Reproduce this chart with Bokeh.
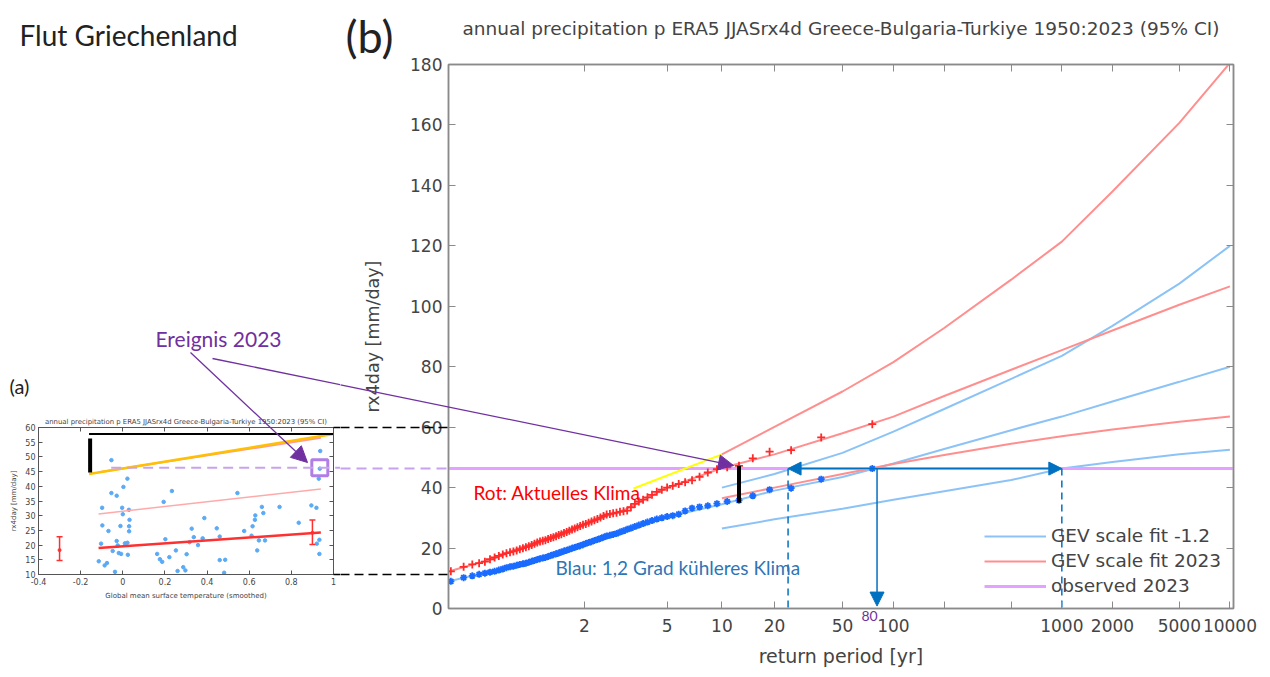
import math
from bokeh.plotting import figure
from bokeh.layouts import row
from bokeh.models import (Range1d, FixedTicker, LinearAxis, Arrow,
                          NormalHead, Legend, LegendItem)
from bokeh.core.properties import value
from bokeh.embed import file_html
from bokeh.resources import INLINE

# ---------------------------------------------------------------- data (b)
# ranked JJAS rx4day values 1950-2023 (largest first), plotted at return period (n+1)/rank
n_years = 74
red_2023 = [61.0, 56.6, 52.4, 51.9, 49.7, 47.2, 46.7, 46.1, 45.0, 43.6,
            42.4, 41.8, 41.2, 40.6, 40.0, 39.3, 38.6, 37.6, 36.8, 36.0,
            35.4, 34.6, 33.5, 32.4, 32.2, 32.0, 31.7, 31.5, 31.3, 31.1,
            30.6, 30.1, 29.6, 29.2, 28.8, 28.4, 28.0, 27.7, 27.3, 26.9,
            26.5, 26.1, 25.7, 25.3, 25.0, 24.6, 24.3, 23.9, 23.6, 23.3,
            23.0, 22.6, 22.4, 22.2, 21.8, 21.4, 21.0, 20.6, 20.3, 19.9,
            19.6, 19.2, 18.9, 18.6, 18.3, 17.9, 17.4, 16.9, 16.3, 15.5,
            15.0, 14.6, 13.8, 12.3]
blue_minus12 = [46.3, 42.8, 39.8, 39.3, 37.3, 35.8, 35.4, 34.7, 34.0, 33.6,
                33.2, 32.3, 31.2, 30.7, 30.4, 30.0, 29.6, 29.1, 28.6, 28.1,
                27.6, 27.1, 26.6, 26.2, 25.7, 25.3, 24.8, 24.5, 24.2, 24.0,
                23.6, 23.2, 22.8, 22.5, 22.1, 21.8, 21.5, 21.1, 20.8, 20.5,
                20.2, 19.9, 19.6, 19.3, 19.0, 18.7, 18.4, 18.1, 17.8, 17.5,
                17.2, 16.9, 16.7, 16.5, 16.2, 15.9, 15.6, 15.3, 15.0, 14.8,
                14.6, 14.3, 14.0, 13.8, 13.5, 13.1, 12.7, 12.3, 12.0, 11.7,
                11.3, 10.8, 10.2, 9.0]
observed_2023 = 46.3
observed_T = [1.001, 20000]

fit_T = [1.01, 1.1, 1.2, 1.5, 2, 3, 5, 10, 20, 50, 100, 200, 500, 1000, 2000, 5000, 10000]
fit_2023_mid = [12.0, 16.5, 19.5, 23.8, 28.0, 32.5, 40.0, 46.5, 51.0, 58.0, 63.5, 70.3, 79.0, 85.5, 92.0, 100.5, 106.6]
fit_m12_mid = [8.8, 12.5, 14.5, 17.5, 21.0, 25.0, 30.3, 34.5, 39.0, 43.5, 48.0, 52.8, 59.0, 63.5, 68.5, 75.0, 80.0]
ci_T = [10, 20, 50, 100, 200, 500, 1000, 2000, 5000, 10000]
fit_2023_hi = [51.0, 60.1, 71.8, 81.5, 92.8, 108.8, 121.4, 138.0, 160.7, 180.5]
fit_2023_lo = [36.5, 40.0, 44.5, 47.8, 50.8, 54.5, 57.0, 59.2, 61.8, 63.5]
fit_m12_hi = [40.0, 44.5, 51.5, 58.5, 66.0, 76.0, 83.6, 93.5, 107.5, 120.0]
fit_m12_lo = [26.5, 29.5, 33.0, 36.0, 38.8, 42.5, 46.3, 48.5, 51.0, 52.5]

tick_T = [2, 5, 10, 20, 50, 100, 1000, 2000, 5000, 10000]
tick_text = ["2", "5", "10", "20", "50", "100", "1000", "2000", "5000", "10000"]
minor_T = [200, 500]
y_ticks_b = [0, 20, 40, 60, 80, 100, 120, 140, 160, 180]

# annotation values
event_T = 12.5          # rank-6 point marked with the black bar
bar_lo, bar_hi = 35.0, 47.2
rp_cool_lo, rp_now, rp_cool_hi = 24, 80, 1000

# ---------------------------------------------------------------- data (a)
gmst = [-0.054, -0.098, -0.097, -0.103, -0.114, -0.086, -0.075, -0.068, -0.054, -0.029,
        -0.048, -0.037, -0.029, -0.024, -0.019, -0.008, -0.011, -0.003, 0.000, 0.003,
        0.010, 0.022, 0.029, 0.032, 0.030, 0.030, 0.022, 0.024, 0.163, 0.176,
        0.187, 0.194, 0.202, 0.221, 0.233, 0.252, 0.260, 0.287, 0.297, 0.303,
        0.327, 0.337, 0.317, 0.357, 0.379, 0.387, 0.446, 0.460, 0.460, 0.486,
        0.481, 0.544, 0.576, 0.611, 0.616, 0.627, 0.629, 0.638, 0.646, 0.660,
        0.667, 0.675, 0.744, 0.835, 0.895, 0.919, 0.937, 0.930, 0.933, 0.933,
        0.921, 0.935]
rx4day = [48.9, 32.7, 26.7, 20.5, 14.5, 13.1, 13.9, 24.8, 37.7, 36.8,
          18.0, 10.9, 21.4, 19.9, 17.3, 17.0, 26.5, 32.7, 30.5, 39.8,
          20.6, 42.6, 32.0, 28.6, 26.4, 24.7, 20.8, 16.7, 17.0, 15.2,
          14.3, 34.7, 22.0, 15.9, 38.4, 18.2, 11.2, 12.5, 11.4, 16.9,
          25.6, 22.7, 21.0, 20.0, 22.3, 29.2, 25.7, 22.9, 14.9, 15.0,
          10.6, 37.7, 24.8, 23.2, 26.4, 28.6, 30.1, 18.2, 21.6, 33.0,
          30.9, 21.6, 33.0, 27.6, 33.5, 32.7, 52.0, 42.6, 21.8, 17.0,
          20.5, 46.0]
trend_x = [-0.115, 0.94]
trend_mu = [19.0, 24.3]
trend_rp6 = [30.6, 39.1]
trend_rp40 = [44.8, 56.5]
highlight_x = [-0.16, 1.0]
highlight_y = [44.2, 57.8]
err_x = [-0.3, 0.9]
err_mid = [18.3, 24.2]
err_lo = [14.8, 20.2]
err_hi = [22.8, 28.5]
event_gmst = 0.935

TITLE = "annual precipitation p ERA5 JJASrx4d Greece-Bulgaria-Turkiye 1950:2023 (95% CI)"
PURPLE = "#7030a0"
BLUEA = "#0070c0"
GRAY = "#444444"


def gum(T):
    return -math.log(-math.log(1.0 - 1.0 / T))


# ---------------------------------------------------------------- geometry helpers (page px -> data)
SPLIT = 340                       # page x where panel (b)'s canvas starts
XL, XR = -1.495, 9.259
FL, FR, FT, FB = 448, 1233, 64, 608


def mx(px):
    return XL + (px - FL) * (XR - XL) / (FR - FL)


def my(py):
    return (FB - py) * 180.0 / (FB - FT)


AL, AR, AT, AB = 38, 333, 427, 574


def ax_(px):
    return -0.4 + (px - AL) * 1.4 / (AR - AL)


def ay(py):
    return 10 + (AB - py) * 50.0 / (AB - AT)


def mirror_axis(ticker, color, tick_len, width=1.0, minor=False):
    return LinearAxis(ticker=ticker, major_label_text_font_size="1px", major_label_text_color=None,
                      major_tick_in=tick_len, major_tick_out=0,
                      minor_tick_in=tick_len if minor else 0, minor_tick_out=0,
                      minor_tick_line_color=color if minor else None,
                      axis_line_color=color, axis_line_width=width,
                      major_tick_line_color=color, major_label_standoff=0)


def free_text(p, x, y, s, size, color, align="left", font="Lato"):
    r = p.text(x=[x], y=[y], text=[s], text_font=value(font), text_font_size=value(size),
               text_color=color, text_baseline="middle", text_align=align)
    r.level = "overlay"
    return r


def free_seg(p, x0, y0, x1, y1, color, width, dash="solid"):
    r = p.segment(x0=x0, y0=y0, x1=x1, y1=y1, line_color=color, line_width=width, line_dash=dash)
    r.level = "overlay"
    return r


def head(p, fx, fy, tx, ty, color, size):
    # arrow head only, placed at the tip (from a short inner segment)
    p.add_layout(Arrow(end=NormalHead(size=size, fill_color=color, line_color=color),
                       x_start=fx, y_start=fy, x_end=tx, y_end=ty, line_color=color, line_width=1.3))


# ================================================================ panel (b)
pm = figure(width=1262 - SPLIT, height=670, x_range=Range1d(XL, XR), y_range=Range1d(0, 180),
            output_backend="svg", toolbar_location=None, frame_align=False,
            min_border_left=FL - SPLIT, min_border_right=29, min_border_top=FT, min_border_bottom=670 - FB,
            x_axis_label="return period [yr]", y_axis_label="rx4day [mm/day]")
pm.grid.visible = False
pm.outline_line_color = "#8a8a8a"
pm.outline_line_width = 1.5
free_text(pm, (XL + XR) / 2, my(28), TITLE, "18.5px", GRAY, align="center", font="DejaVu Sans")

tick_pos = [round(gum(t), 6) for t in tick_T]
xt = FixedTicker(ticks=tick_pos, minor_ticks=[gum(t) for t in minor_T])
yt = FixedTicker(ticks=y_ticks_b)
for ax in pm.xaxis:
    ax.ticker = xt
    ax.major_label_overrides = {p: s for p, s in zip(tick_pos, tick_text)}
    ax.minor_tick_in = 7
    ax.minor_tick_out = 0
    ax.minor_tick_line_color = "#8a8a8a"
for ax in pm.yaxis:
    ax.ticker = yt
    ax.minor_tick_line_color = None
for ax in list(pm.xaxis) + list(pm.yaxis):
    ax.major_tick_in = 7
    ax.major_tick_out = 0
    ax.axis_line_color = "#8a8a8a"
    ax.axis_line_width = 1.5
    ax.major_tick_line_color = "#8a8a8a"
    ax.major_label_text_font = "DejaVu Sans"
    ax.major_label_text_font_size = "17px"
    ax.major_label_text_color = GRAY
    ax.axis_label_text_font = "DejaVu Sans"
    ax.axis_label_text_font_style = "normal"
    ax.axis_label_text_color = GRAY
pm.xaxis.axis_label_text_font_size = "19px"
pm.yaxis.axis_label_text_font_size = "17.5px"
pm.xaxis.major_label_standoff = 10
pm.xaxis.axis_label_standoff = 10
pm.yaxis.major_label_standoff = 6
pm.yaxis.axis_label_standoff = 24

pm.add_layout(mirror_axis(yt, "#8a8a8a", 7, 1.5), "right")
pm.add_layout(mirror_axis(xt, "#8a8a8a", 7, 1.5, minor=True), "above")

gx_pts = [gum((n_years + 1) / r) for r in range(1, n_years + 1)]
gx_fit = [gum(t) for t in fit_T]
gx_ci = [gum(t) for t in ci_T]

RED_FIT = "#ff8f8f"
BLUE_FIT = "#8cc3f7"
r_bmid = pm.line(gx_fit, fit_m12_mid, line_color=BLUE_FIT, line_width=2)
pm.line(gx_ci, fit_m12_hi, line_color=BLUE_FIT, line_width=2)
pm.line(gx_ci, fit_m12_lo, line_color=BLUE_FIT, line_width=2)
r_rmid = pm.line(gx_fit, fit_2023_mid, line_color=RED_FIT, line_width=2)
pm.line(gx_ci, fit_2023_hi, line_color=RED_FIT, line_width=2)
pm.line(gx_ci, fit_2023_lo, line_color=RED_FIT, line_width=2)

r_obs = pm.line([gum(t) for t in observed_T], [observed_2023, observed_2023],
                line_color="#e4a1ff", line_width=3)

pm.scatter(gx_pts, blue_minus12, marker="asterisk", size=7, line_color="#1a6bff", line_width=1.8)
pm.scatter(gx_pts, red_2023, marker="cross", size=8, line_color="#ff2a2a", line_width=1.8)

# black bar between the two climates at the event
pm.segment(x0=[gum(event_T)], y0=[bar_lo], x1=[gum(event_T)], y1=[bar_hi],
           line_color="black", line_width=4)

# blue return-period construction
g_lo, g_now, g_hi = gum(rp_cool_lo), gum(rp_now), gum(rp_cool_hi)
pm.segment(x0=[g_lo, g_hi], y0=[observed_2023, observed_2023], x1=[g_lo, g_hi], y1=[0, 0],
           line_color=BLUEA, line_width=1.5, line_dash="7 5")
pm.add_layout(Arrow(start=NormalHead(size=13, fill_color=BLUEA, line_color=BLUEA),
                    end=NormalHead(size=13, fill_color=BLUEA, line_color=BLUEA),
                    x_start=g_lo, y_start=observed_2023, x_end=g_hi, y_end=observed_2023,
                    line_color=BLUEA, line_width=1.5))
pm.add_layout(Arrow(end=NormalHead(size=14, fill_color=BLUEA, line_color=BLUEA),
                    x_start=g_now, y_start=observed_2023, x_end=g_now, y_end=0.8,
                    line_color=BLUEA, line_width=1.5))
free_text(pm, mx(869), my(615), "80", "14px", PURPLE, align="center")

# yellow pointer and labels
pm.segment(x0=[mx(633)], y0=[my(488)], x1=[gum(10)], y1=[fit_2023_hi[0]],
           line_color="#ffff00", line_width=2)
free_text(pm, mx(473), my(492), "Rot: Aktuelles Klima", "19px", "#ff0000")
free_text(pm, mx(555), my(567), "Blau: 1,2 Grad kühleres Klima", "19px", "#2e75b6")
free_text(pm, mx(345), my(35), "(b)", "45px", "#222222")

# lines coming from panel (a) into the left margin of (b)
free_seg(pm, [mx(SPLIT)], [observed_2023], [XL], [observed_2023], "#c8a2f0", 2, "10 6")
free_seg(pm, [mx(SPLIT), mx(SPLIT)], [my(427), my(574)], [XL, XL], [my(427), my(574)],
         "black", 1.5, "9 5")
B0 = (212, 358)
B1 = (733, 465)
slope_b = (B1[1] - B0[1]) / (B1[0] - B0[0])
y_split = B0[1] + (SPLIT - B0[0]) * slope_b
free_seg(pm, [mx(SPLIT)], [my(y_split)], [mx(B1[0] - 8)], [my(B1[1] - 8 * slope_b)], PURPLE, 1.3)
head(pm, mx(B1[0] - 10), my(B1[1] - 10 * slope_b), mx(B1[0]), my(B1[1]), PURPLE, 15)

legend = Legend(items=[LegendItem(label="GEV scale fit -1.2", renderers=[r_bmid]),
                       LegendItem(label="GEV scale fit 2023", renderers=[r_rmid]),
                       LegendItem(label="observed 2023", renderers=[r_obs])],
                location="bottom_right")
legend.label_text_font = "DejaVu Sans"
legend.label_text_font_size = "18.5px"
legend.label_text_color = GRAY
legend.background_fill_alpha = 0
legend.border_line_alpha = 0
legend.glyph_width = 62
legend.glyph_height = 20
legend.label_height = 20
legend.spacing = 4
legend.padding = 2
legend.margin = 10
pm.add_layout(legend)

# ================================================================ panel (a)
pa = figure(width=SPLIT, height=670, x_range=Range1d(-0.4, 1.0), y_range=Range1d(10, 60),
            output_backend="svg", toolbar_location=None, frame_align=False,
            min_border_left=AL, min_border_right=SPLIT - AR, min_border_top=AT, min_border_bottom=670 - AB,
            x_axis_label="Global mean surface temperature (smoothed)",
            y_axis_label="rx4day [mm/day]")
pa.title.text = TITLE
pa.title.align = "center"
pa.title.text_font = "DejaVu Sans"
pa.title.text_font_size = "6.9px"
pa.title.text_font_style = "normal"
pa.title.text_color = GRAY
pa.title.standoff = 4
pa.grid.visible = False
pa.outline_line_color = "#555555"

ax_ticks = [-0.4, -0.2, 0.0, 0.2, 0.4, 0.6, 0.8, 1.0]
ax_text = ["-0.4", "-0.2", "0", "0.2", "0.4", "0.6", "0.8", "1"]
axt = FixedTicker(ticks=ax_ticks)
ayt = FixedTicker(ticks=[10, 15, 20, 25, 30, 35, 40, 45, 50, 55, 60])
pa.xaxis.ticker = axt
pa.xaxis.major_label_overrides = {p: s for p, s in zip(ax_ticks, ax_text)}
pa.yaxis.ticker = ayt
for ax in list(pa.xaxis) + list(pa.yaxis):
    ax.major_tick_in = 4
    ax.major_tick_out = 0
    ax.minor_tick_line_color = None
    ax.axis_line_color = "#555555"
    ax.major_tick_line_color = "#555555"
    ax.major_label_text_font = "DejaVu Sans"
    ax.major_label_text_font_size = "8px"
    ax.major_label_text_color = GRAY
    ax.major_label_standoff = 3
    ax.axis_label_text_font = "DejaVu Sans"
    ax.axis_label_text_font_size = "7px"
    ax.axis_label_text_font_style = "normal"
    ax.axis_label_text_color = GRAY
    ax.axis_label_standoff = 4
pa.add_layout(mirror_axis(ayt, "#555555", 4), "right")
pa.add_layout(mirror_axis(axt, "#555555", 4), "above")

pa.scatter(gmst, rx4day, marker="circle", size=3.5, fill_color="#5aaaf5", line_color="#5aaaf5")
pa.line(trend_x, trend_rp6, line_color="#ffaaaa", line_width=1.5)
pa.line(trend_x, trend_rp40, line_color="#ff9a9a", line_width=2)
pa.line(trend_x, trend_mu, line_color="#ff3030", line_width=2.5)
pa.line(highlight_x, highlight_y, line_color="#ffc000", line_width=2.5)
pa.segment(x0=[highlight_x[0]], y0=[highlight_y[1]], x1=[highlight_x[1]], y1=[highlight_y[1]],
           line_color="black", line_width=2)
pa.segment(x0=[-0.155], y0=[44.7], x1=[-0.155], y1=[56.3], line_color="black", line_width=4)
pa.segment(x0=err_x, y0=err_lo, x1=err_x, y1=err_hi, line_color="#ff3030", line_width=1.5)
pa.scatter(err_x + err_x, err_lo + err_hi, marker="dash", size=6, line_color="#ff3030", line_width=1.5)
pa.scatter(err_x, err_mid, marker="circle", size=3, fill_color="#ff3030", line_color="#ff3030")

free_seg(pa, [-0.055], [observed_2023], [ax_(SPLIT)], [observed_2023], "#c8a2f0", 2, "10 6")
pa.scatter([event_gmst], [observed_2023], marker="square", size=16, fill_alpha=0,
           line_color="#b07fe6", line_width=3)
free_seg(pa, [1.0, 1.0], [60, 10], [ax_(SPLIT), ax_(SPLIT)], [60, 10], "black", 1.5, "9 5")

free_text(pa, ax_(19), ay(34), "Flut Griechenland", "28px", "#222222")
free_text(pa, ax_(9), ay(385), "(a)", "20px", "#222222")
free_text(pa, ax_(155), ay(338), "Ereignis 2023", "21px", PURPLE)

A0 = (190, 352)
A1 = (307, 462)
ux = (A1[0] - A0[0]) / math.hypot(A1[0] - A0[0], A1[1] - A0[1])
uy = (A1[1] - A0[1]) / math.hypot(A1[0] - A0[0], A1[1] - A0[1])
free_seg(pa, [ax_(A0[0])], [ay(A0[1])], [ax_(A1[0] - 8 * ux)], [ay(A1[1] - 8 * uy)], PURPLE, 1.3)
head(pa, ax_(A1[0] - 10 * ux), ay(A1[1] - 10 * uy), ax_(A1[0]), ay(A1[1]), PURPLE, 16)
free_seg(pa, [ax_(B0[0])], [ay(B0[1])], [ax_(SPLIT)], [ay(y_split)], PURPLE, 1.3)

layout = row(pa, pm)
open("out.html", "w").write(file_html(layout, INLINE))
